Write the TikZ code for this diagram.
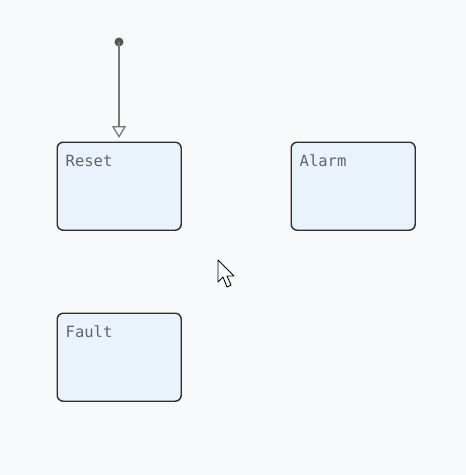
\documentclass[tikz,border=0pt]{standalone}
\usepackage{fontspec}
\setmonofont{DejaVu Sans Mono}
\usetikzlibrary{arrows.meta}
\definecolor{bg}{RGB}{248,249,250}
\definecolor{boxfill}{RGB}{234,243,252}
\definecolor{boxline}{RGB}{45,45,45}
\definecolor{txt}{RGB}{95,100,105}
\definecolor{wire}{RGB}{120,120,120}
\definecolor{dotc}{RGB}{85,85,85}
\tikzset{
  state/.style={draw=boxline, fill=boxfill, line width=1.4pt, rounded corners=6pt,
    minimum width=124pt, minimum height=88pt, inner sep=0pt, anchor=north west},
  statelabel/.style={font=\ttfamily\fontsize{15.5}{17}\selectfont, text=txt, anchor=base west, inner sep=0pt},
  initline/.style={draw=wire, line width=1.3pt, -{Triangle[open, length=12pt, width=14pt, line width=1.3pt]}}
}
\begin{document}
\begin{tikzpicture}[x=1pt,y=-1pt]
\fill[bg] (0,0) rectangle (466,475);
\useasboundingbox (0,0) rectangle (466,475);
\node[state] (reset) at (56.5,141.5) {};
\node[state] (alarm) at (290.5,141.5) {};
\node[state] (fault) at (56.5,312.5) {};
\node[statelabel] (resetl) at (65.5,166) {Reset};
\node[statelabel] (alarml) at (299.5,166) {Alarm};
\node[statelabel] (faultl) at (65.5,337) {Fault};
\fill[dotc] (119,42) circle (4.5pt);
\coordinate (start) at (119,42);
\coordinate (tip) at (119,138);
\draw[initline] (start) -- (tip);
% mouse cursor
\draw[fill=white, draw=black, line width=0.9pt, line join=round]
  (218,260) -- (218,282) -- (223,277) -- (227,287) -- (231,285) -- (227,276) -- (234,276) -- cycle;
\end{tikzpicture}
\end{document}
